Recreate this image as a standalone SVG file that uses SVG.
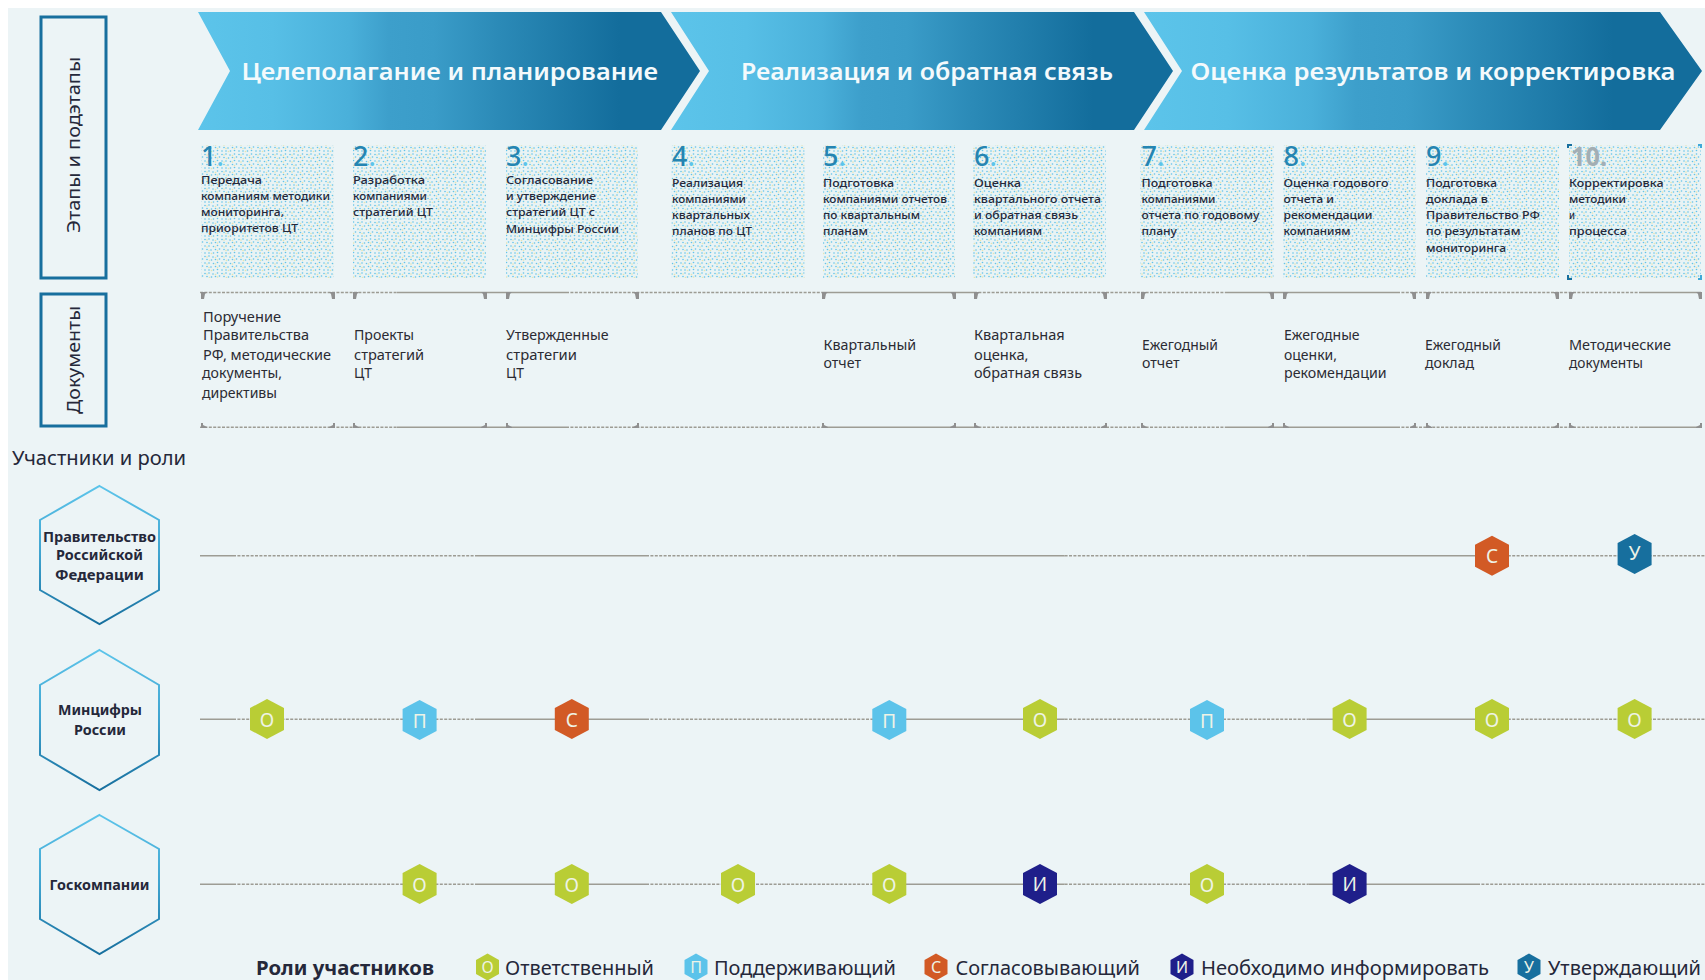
<svg xmlns="http://www.w3.org/2000/svg" width="1705" height="980" viewBox="0 0 1705 980">
<style>
text{font-family:"Noto Sans","Liberation Sans",sans-serif;fill:#25283a}
.ch{font-size:24px;font-weight:600;fill:#f4fafc}
.num{font-size:27px;fill:#2585b2;font-weight:500}
.dot{fill:#5cc4ea}
.st{font-size:11.5px;font-weight:500;transform:translateY(-.8px)}
.dt{font-size:14px;fill:#2b2b33;transform:translateY(-.6px)}
.hd{font-size:18px;fill:#25283a}
.hx{font-size:13.5px;font-weight:700;text-anchor:middle;transform:translateY(-.8px)}
.bl{font-size:19px;fill:#eef3e6;text-anchor:middle}
.ll{font-size:16px;fill:#eef3e6;text-anchor:middle}
.lg{font-size:19px;fill:#25283a}
.o{fill:#b9cd35}.p{fill:#5cc3ea}.c{fill:#d25a25}.i{fill:#1f1f8a}.u{fill:#176f9e}
.frame{fill:none;stroke:#176f9e;stroke-width:3}
.hexn{fill:none;stroke:url(#hs);stroke-width:2}
.s{stroke:#9d9c94;stroke-width:1.6;fill:none}
.d{stroke:#9d9c94;stroke-width:1.4;fill:none;stroke-dasharray:3 1.4}
</style>
<defs>
<linearGradient id="cg" x1="0" x2="1" y1="0" y2="0">
<stop offset="0" stop-color="#5cc4ea"/><stop offset=".15" stop-color="#57bfe6"/><stop offset=".3" stop-color="#4ab0da"/><stop offset=".38" stop-color="#3d9fcb"/><stop offset=".47" stop-color="#3a9cc8"/><stop offset=".6" stop-color="#2b8ab7"/><stop offset=".84" stop-color="#136d9c"/><stop offset="1" stop-color="#136d9c"/>
</linearGradient>
<linearGradient id="hs" x1="0" x2="0" y1="0" y2="1">
<stop offset="0" stop-color="#5cc4ea"/><stop offset=".5" stop-color="#3fa3cf"/><stop offset="1" stop-color="#176f9e"/>
</linearGradient>
<pattern id="stip" width="17" height="17" patternUnits="userSpaceOnUse">
<rect width="17" height="17" fill="#e9f3f4"/>
<g fill="#62c3ea">
<circle cx="1" cy="1.5" r=".8"/><circle cx="5" cy="1" r=".8"/><circle cx="9" cy="2" r=".8"/><circle cx="13.5" cy="1" r=".8"/>
<circle cx="3" cy="4.5" r=".8"/><circle cx="7.5" cy="5" r=".8"/><circle cx="11.5" cy="4.5" r=".8"/><circle cx="15.5" cy="4" r=".8"/>
<circle cx="1" cy="8" r=".8"/><circle cx="5" cy="8" r=".8"/><circle cx="9.5" cy="8.5" r=".8"/><circle cx="13.5" cy="7.5" r=".8"/>
<circle cx="3" cy="11.5" r=".8"/><circle cx="7" cy="12" r=".8"/><circle cx="11.5" cy="11.5" r=".8"/><circle cx="15.5" cy="11" r=".8"/>
<circle cx="1" cy="15" r=".8"/><circle cx="5" cy="15" r=".8"/><circle cx="9.5" cy="15" r=".8"/><circle cx="13.5" cy="14.5" r=".8"/>
</g>
<g fill="#e6e5b0">
<circle cx="3" cy="2" r=".8"/><circle cx="11.5" cy="2.5" r=".8"/><circle cx="5.5" cy="5.5" r=".8"/><circle cx="13.5" cy="5" r=".8"/>
<circle cx="3" cy="9" r=".8"/><circle cx="11.5" cy="9" r=".8"/><circle cx="5" cy="12.5" r=".8"/><circle cx="13.5" cy="12.5" r=".8"/><circle cx="7.5" cy="15.5" r=".8"/>
</g>
</pattern>
<polygon id="bdg" points="0,-20 17,-11 17,11 0,20 -17,11 -17,-11"/>
<polygon id="lbd" points="0,-13.5 11.5,-7 11.5,7 0,13.5 -11.5,7 -11.5,-7"/>
</defs>

<rect width="1705" height="980" fill="#fff"/>
<rect x="8" y="8" width="1697" height="972" fill="#ecf4f6"/>

<g id="stage-1"><polygon points="198,12 661,12 700,71 661,130 198,130 230,71" fill="url(#cg)"/><text class="ch" x="241.500" y="80" textLength="416.500" lengthAdjust="spacingAndGlyphs">Целеполагание и планирование</text></g>
<g id="stage-2"><polygon points="671,12 1134,12 1173,71 1134,130 671,130 709,71" fill="url(#cg)"/><text class="ch" x="741" y="80" textLength="372" lengthAdjust="spacingAndGlyphs">Реализация и обратная связь</text></g>
<g id="stage-3"><polygon points="1144,12 1660,12 1702,71 1660,130 1144,130 1182,71" fill="url(#cg)"/><text class="ch" x="1190.500" y="80" textLength="485" lengthAdjust="spacingAndGlyphs">Оценка результатов и корректировка</text></g>

<g id="label-stages"><rect class="frame" x="41" y="17" width="65" height="261"/><text class="hd" transform="translate(79.500 233) rotate(-90)" textLength="176" lengthAdjust="spacingAndGlyphs">Этапы и подэтапы</text></g>
<g id="label-docs"><rect class="frame" x="41" y="294" width="65" height="132"/><text class="hd" transform="translate(79.500 414) rotate(-90)" textLength="108" lengthAdjust="spacingAndGlyphs">Документы</text></g>
<text id="label-roles" x="12" y="465" font-size="19" textLength="174" lengthAdjust="spacingAndGlyphs">Участники и роли</text>

<g id="step-1"><rect x="201" y="145" width="133" height="133" fill="url(#stip)"/><text class="num" x="201" y="166">1<tspan class="dot">.</tspan></text>
<text class="st" x="201" y="185" textLength="61" lengthAdjust="spacingAndGlyphs">Передача</text><text class="st" x="201" y="201" textLength="129" lengthAdjust="spacingAndGlyphs">компаниям методики</text><text class="st" x="201" y="217" textLength="83" lengthAdjust="spacingAndGlyphs">мониторинга,</text><text class="st" x="201" y="233" textLength="97" lengthAdjust="spacingAndGlyphs">приоритетов ЦТ</text></g>
<g id="step-2"><rect x="353" y="145" width="133" height="133" fill="url(#stip)"/><text class="num" x="353" y="166">2<tspan class="dot">.</tspan></text>
<text class="st" x="353" y="185" textLength="72" lengthAdjust="spacingAndGlyphs">Разработка</text><text class="st" x="353" y="201" textLength="74" lengthAdjust="spacingAndGlyphs">компаниями</text><text class="st" x="353" y="217" textLength="80" lengthAdjust="spacingAndGlyphs">стратегий ЦТ</text></g>
<g id="step-3"><rect x="506" y="145" width="132" height="133" fill="url(#stip)"/><text class="num" x="506" y="166">3<tspan class="dot">.</tspan></text>
<text class="st" x="506" y="185" textLength="87" lengthAdjust="spacingAndGlyphs">Согласование</text><text class="st" x="506" y="201" textLength="90" lengthAdjust="spacingAndGlyphs">и утверждение</text><text class="st" x="506" y="217" textLength="89" lengthAdjust="spacingAndGlyphs">стратегий ЦТ с</text><text class="st" x="506" y="234" textLength="113" lengthAdjust="spacingAndGlyphs">Минцифры России</text></g>
<g id="step-4"><rect x="671.500" y="145" width="133" height="133" fill="url(#stip)"/><text class="num" x="672" y="166">4<tspan class="dot">.</tspan></text>
<text class="st" x="672" y="188" textLength="71" lengthAdjust="spacingAndGlyphs">Реализация</text><text class="st" x="672" y="204" textLength="74" lengthAdjust="spacingAndGlyphs">компаниями</text><text class="st" x="672" y="220" textLength="78" lengthAdjust="spacingAndGlyphs">квартальных</text><text class="st" x="672" y="236" textLength="80" lengthAdjust="spacingAndGlyphs">планов по ЦТ</text></g>
<g id="step-5"><rect x="823" y="145" width="132" height="133" fill="url(#stip)"/><text class="num" x="823" y="166">5<tspan class="dot">.</tspan></text>
<text class="st" x="823" y="188" textLength="71" lengthAdjust="spacingAndGlyphs">Подготовка</text><text class="st" x="823" y="204" textLength="124" lengthAdjust="spacingAndGlyphs">компаниями отчетов</text><text class="st" x="823" y="220" textLength="97" lengthAdjust="spacingAndGlyphs">по квартальным</text><text class="st" x="823" y="236" textLength="45" lengthAdjust="spacingAndGlyphs">планам</text></g>
<g id="step-6"><rect x="973" y="145" width="133" height="133" fill="url(#stip)"/><text class="num" x="974" y="166">6<tspan class="dot">.</tspan></text>
<text class="st" x="974" y="188" textLength="47" lengthAdjust="spacingAndGlyphs">Оценка</text><text class="st" x="974" y="204" textLength="127" lengthAdjust="spacingAndGlyphs">квартального отчета</text><text class="st" x="974" y="220" textLength="104" lengthAdjust="spacingAndGlyphs">и обратная связь</text><text class="st" x="974" y="236" textLength="68" lengthAdjust="spacingAndGlyphs">компаниям</text></g>
<g id="step-7"><rect x="1140.500" y="145" width="133" height="133" fill="url(#stip)"/><text class="num" x="1141.500" y="166">7<tspan class="dot">.</tspan></text>
<text class="st" x="1141.500" y="188" textLength="71" lengthAdjust="spacingAndGlyphs">Подготовка</text><text class="st" x="1141.500" y="204" textLength="74" lengthAdjust="spacingAndGlyphs">компаниями</text><text class="st" x="1141.500" y="220" textLength="118" lengthAdjust="spacingAndGlyphs">отчета по годовому</text><text class="st" x="1141.500" y="236" textLength="35.500" lengthAdjust="spacingAndGlyphs">плану</text></g>
<g id="step-8"><rect x="1283" y="145" width="132.500" height="133" fill="url(#stip)"/><text class="num" x="1283.500" y="166">8<tspan class="dot">.</tspan></text>
<text class="st" x="1283.500" y="188" textLength="105" lengthAdjust="spacingAndGlyphs">Оценка годового</text><text class="st" x="1283.500" y="204" textLength="50.500" lengthAdjust="spacingAndGlyphs">отчета и</text><text class="st" x="1283.500" y="220" textLength="89" lengthAdjust="spacingAndGlyphs">рекомендации</text><text class="st" x="1283.500" y="236" textLength="67" lengthAdjust="spacingAndGlyphs">компаниям</text></g>
<g id="step-9"><rect x="1426" y="145" width="133" height="133" fill="url(#stip)"/><text class="num" x="1426" y="166">9<tspan class="dot">.</tspan></text>
<text class="st" x="1426" y="188" textLength="71" lengthAdjust="spacingAndGlyphs">Подготовка</text><text class="st" x="1426" y="204" textLength="62" lengthAdjust="spacingAndGlyphs">доклада в</text><text class="st" x="1426" y="220" textLength="114" lengthAdjust="spacingAndGlyphs">Правительство РФ</text><text class="st" x="1426" y="236" textLength="94.500" lengthAdjust="spacingAndGlyphs">по результатам</text><text class="st" x="1426" y="253" textLength="80" lengthAdjust="spacingAndGlyphs">мониторинга</text></g>
<g id="step-10"><rect x="1569" y="145" width="132" height="133" fill="url(#stip)"/><text class="num" x="1571" y="166" style="fill:#a3aeb4;font-weight:700" textLength="36" lengthAdjust="spacingAndGlyphs">10.</text>
<text class="st" x="1569" y="188" textLength="94.500" lengthAdjust="spacingAndGlyphs">Корректировка</text><text class="st" x="1569" y="204" textLength="57" lengthAdjust="spacingAndGlyphs">методики</text><text class="st" x="1569" y="220" textLength="6" lengthAdjust="spacingAndGlyphs">и</text><text class="st" x="1569" y="236" textLength="58" lengthAdjust="spacingAndGlyphs">процесса</text>
<path d="M1567 144h5v2h-3v2h-2zM1567 275h2v3h3v2h-5z" fill="#176f9e"/><path d="M1698 144h4v4h-2v-2h-2zM1700 275h2v5h-4v-2h2z" fill="#3fa9d8"/></g>

<g id="connectors">
<path class="d" d="M200 292.500H397M566 292.500H822M974 292.500H1227M1397 292.500H1640M200 427.300H397M566 427.300H822M974 427.300H1227M1397 427.300H1640"/>
<path class="s" d="M397 292.500H566M822 292.500H974M1227 292.500H1397M1640 292.500H1701M397 427.300H566M822 427.300H974M1227 427.300H1397M1640 427.300H1701"/>
<path fill="#8f8f8f" d="M201 292h6l-2 2l-1 5h-3zM353 292h6l-2 2l-1 5h-3zM506 292h6l-2 2l-1 5h-3zM822 292h6l-2 2l-1 5h-3zM974 292h6l-2 2l-1 5h-3zM1141 292h6l-2 2l-1 5h-3zM1283 292h6l-2 2l-1 5h-3zM1426 292h6l-2 2l-1 5h-3zM1569 292h6l-2 2l-1 5h-3z"/>
<path fill="#8f8f8f" d="M335 292h-6l2 2l1 5h3zM487 292h-6l2 2l1 5h3zM639 292h-6l2 2l1 5h3zM956 292h-6l2 2l1 5h3zM1107 292h-6l2 2l1 5h3zM1274 292h-6l2 2l1 5h3zM1416 292h-6l2 2l1 5h3zM1559 292h-6l2 2l1 5h3zM1702 292h-6l2 2l1 5h3z"/>
<path fill="#8f8f8f" d="M201 428v-5h2v2l4 2v1zM353 428v-5h2v2l4 2v1zM506 428v-5h2v2l4 2v1zM822 428v-5h2v2l4 2v1zM974 428v-5h2v2l4 2v1zM1141 428v-5h2v2l4 2v1zM1283 428v-5h2v2l4 2v1zM1426 428v-5h2v2l4 2v1zM1569 428v-5h2v2l4 2v1z"/>
<path fill="#8f8f8f" d="M335 428v-5h-2v2l-4 2v1zM487 428v-5h-2v2l-4 2v1zM639 428v-5h-2v2l-4 2v1zM956 428v-5h-2v2l-4 2v1zM1107 428v-5h-2v2l-4 2v1zM1274 428v-5h-2v2l-4 2v1zM1416 428v-5h-2v2l-4 2v1zM1559 428v-5h-2v2l-4 2v1zM1702 428v-5h-2v2l-4 2v1z"/>
<path class="s" d="M200 555.700H233M477 555.700H646M897 555.700H1064.600M1308.700 555.700H1477M200 719.300H233M477 719.300H646M897 719.300H1064.600M1308.700 719.300H1477M200 884.300H233M477 884.300H646M897 884.300H1064.600M1308.700 884.300H1477"/>
<path class="d" d="M233 555.700H477M646 555.700H897M1064.600 555.700H1308.700M1477 555.700H1705M233 719.300H477M646 719.300H897M1064.600 719.300H1308.700M1477 719.300H1705M233 884.300H477M646 884.300H897M1064.600 884.300H1308.700M1477 884.300H1705"/>
</g>

<g id="doc-1"><text class="dt" x="203" y="323" textLength="78" lengthAdjust="spacingAndGlyphs">Поручение</text><text class="dt" x="203" y="341" textLength="106" lengthAdjust="spacingAndGlyphs">Правительства</text><text class="dt" x="203" y="361" textLength="128" lengthAdjust="spacingAndGlyphs">РФ, методические</text><text class="dt" x="202" y="379" textLength="80" lengthAdjust="spacingAndGlyphs">документы,</text><text class="dt" x="202" y="399" textLength="75" lengthAdjust="spacingAndGlyphs">директивы</text></g>
<g id="doc-2"><text class="dt" x="354" y="341" textLength="60" lengthAdjust="spacingAndGlyphs">Проекты</text><text class="dt" x="354" y="361" textLength="70" lengthAdjust="spacingAndGlyphs">стратегий</text><text class="dt" x="354" y="379" textLength="18" lengthAdjust="spacingAndGlyphs">ЦТ</text></g>
<g id="doc-3"><text class="dt" x="506" y="341" textLength="102.600" lengthAdjust="spacingAndGlyphs">Утвержденные</text><text class="dt" x="506" y="361" textLength="71" lengthAdjust="spacingAndGlyphs">стратегии</text><text class="dt" x="506" y="379" textLength="18" lengthAdjust="spacingAndGlyphs">ЦТ</text></g>
<g id="doc-5"><text class="dt" x="823.500" y="351" textLength="92.600" lengthAdjust="spacingAndGlyphs">Квартальный</text><text class="dt" x="823.500" y="369" textLength="37.500" lengthAdjust="spacingAndGlyphs">отчет</text></g>
<g id="doc-6"><text class="dt" x="974" y="341" textLength="90.700" lengthAdjust="spacingAndGlyphs">Квартальная</text><text class="dt" x="974" y="361" textLength="54.500" lengthAdjust="spacingAndGlyphs">оценка,</text><text class="dt" x="974" y="379" textLength="108" lengthAdjust="spacingAndGlyphs">обратная связь</text></g>
<g id="doc-7"><text class="dt" x="1142" y="351" textLength="76" lengthAdjust="spacingAndGlyphs">Ежегодный</text><text class="dt" x="1142" y="369" textLength="37.500" lengthAdjust="spacingAndGlyphs">отчет</text></g>
<g id="doc-8"><text class="dt" x="1284" y="341" textLength="75.600" lengthAdjust="spacingAndGlyphs">Ежегодные</text><text class="dt" x="1284" y="361" textLength="53" lengthAdjust="spacingAndGlyphs">оценки,</text><text class="dt" x="1284" y="379" textLength="102.600" lengthAdjust="spacingAndGlyphs">рекомендации</text></g>
<g id="doc-9"><text class="dt" x="1425" y="351" textLength="76" lengthAdjust="spacingAndGlyphs">Ежегодный</text><text class="dt" x="1425" y="369" textLength="49" lengthAdjust="spacingAndGlyphs">доклад</text></g>
<g id="doc-10"><text class="dt" x="1569" y="351" textLength="102" lengthAdjust="spacingAndGlyphs">Методические</text><text class="dt" x="1569" y="369" textLength="74" lengthAdjust="spacingAndGlyphs">документы</text></g>

<g id="actor-gov"><polygon class="hexn" points="99.500,486 159,520 159,590 99.500,624 40,590 40,520"/><text class="hx" x="99.500" y="543" textLength="113" lengthAdjust="spacingAndGlyphs">Правительство</text><text class="hx" x="99.500" y="561" textLength="87" lengthAdjust="spacingAndGlyphs">Российской</text><text class="hx" x="99.500" y="581" textLength="89" lengthAdjust="spacingAndGlyphs">Федерации</text></g>
<g id="actor-min"><polygon class="hexn" points="99.500,650 159,685 159,755 99.500,790 40,755 40,685"/><text class="hx" x="100" y="716" textLength="84" lengthAdjust="spacingAndGlyphs">Минцифры</text><text class="hx" x="100" y="736" textLength="52" lengthAdjust="spacingAndGlyphs">России</text></g>
<g id="actor-gos"><polygon class="hexn" points="99.500,815 159,849 159,919 99.500,954 40,919 40,849"/><text class="hx" x="99.500" y="891" textLength="100" lengthAdjust="spacingAndGlyphs">Госкомпании</text></g>

<g id="roles-gov">
<g transform="translate(1492 555.700)"><use href="#bdg" class="c"/><text class="bl" y="7">С</text></g>
<g transform="translate(1634.600 554)"><use href="#bdg" class="u"/><text class="bl" y="6">У</text></g>
</g>
<g id="roles-min">
<g transform="translate(267 719)"><use href="#bdg" class="o"/><text class="bl" y="8">О</text></g>
<g transform="translate(419.600 720)"><use href="#bdg" class="p"/><text class="bl" y="8">П</text></g>
<g transform="translate(571.800 719)"><use href="#bdg" class="c"/><text class="bl" y="8">С</text></g>
<g transform="translate(889.300 720)"><use href="#bdg" class="p"/><text class="bl" y="8">П</text></g>
<g transform="translate(1040 719)"><use href="#bdg" class="o"/><text class="bl" y="8">О</text></g>
<g transform="translate(1207 720)"><use href="#bdg" class="p"/><text class="bl" y="8">П</text></g>
<g transform="translate(1349.600 719)"><use href="#bdg" class="o"/><text class="bl" y="8">О</text></g>
<g transform="translate(1492 719)"><use href="#bdg" class="o"/><text class="bl" y="8">О</text></g>
<g transform="translate(1634.600 719)"><use href="#bdg" class="o"/><text class="bl" y="8">О</text></g>
</g>
<g id="roles-gos">
<g transform="translate(419.600 884)"><use href="#bdg" class="o"/><text class="bl" y="8">О</text></g>
<g transform="translate(571.800 884)"><use href="#bdg" class="o"/><text class="bl" y="8">О</text></g>
<g transform="translate(738 884)"><use href="#bdg" class="o"/><text class="bl" y="8">О</text></g>
<g transform="translate(889.300 884)"><use href="#bdg" class="o"/><text class="bl" y="8">О</text></g>
<g transform="translate(1040 884)"><use href="#bdg" class="i"/><text class="bl" y="7">И</text></g>
<g transform="translate(1207 884)"><use href="#bdg" class="o"/><text class="bl" y="8">О</text></g>
<g transform="translate(1349.600 884)"><use href="#bdg" class="i"/><text class="bl" y="7">И</text></g>
</g>

<g id="legend">
<text class="lg" x="256" y="975" font-weight="700" textLength="178" lengthAdjust="spacingAndGlyphs">Роли участников</text>
<g transform="translate(487.500 967)"><use href="#lbd" class="o"/><text class="ll" y="6">О</text></g><text class="lg" x="505" y="975" textLength="149" lengthAdjust="spacingAndGlyphs">Ответственный</text>
<g transform="translate(696 967)"><use href="#lbd" class="p"/><text class="ll" y="6">П</text></g><text class="lg" x="714" y="975" textLength="182" lengthAdjust="spacingAndGlyphs">Поддерживающий</text>
<g transform="translate(936 967)"><use href="#lbd" class="c"/><text class="ll" y="6">С</text></g><text class="lg" x="955.400" y="975" textLength="184.600" lengthAdjust="spacingAndGlyphs">Согласовывающий</text>
<g transform="translate(1182 967)"><use href="#lbd" class="i"/><text class="ll" y="6">И</text></g><text class="lg" x="1201" y="975" textLength="288" lengthAdjust="spacingAndGlyphs">Необходимо информировать</text>
<g transform="translate(1529 967)"><use href="#lbd" class="u"/><text class="ll" y="6">У</text></g><text class="lg" x="1548" y="975" textLength="153" lengthAdjust="spacingAndGlyphs">Утверждающий</text>
</g>
</svg>
